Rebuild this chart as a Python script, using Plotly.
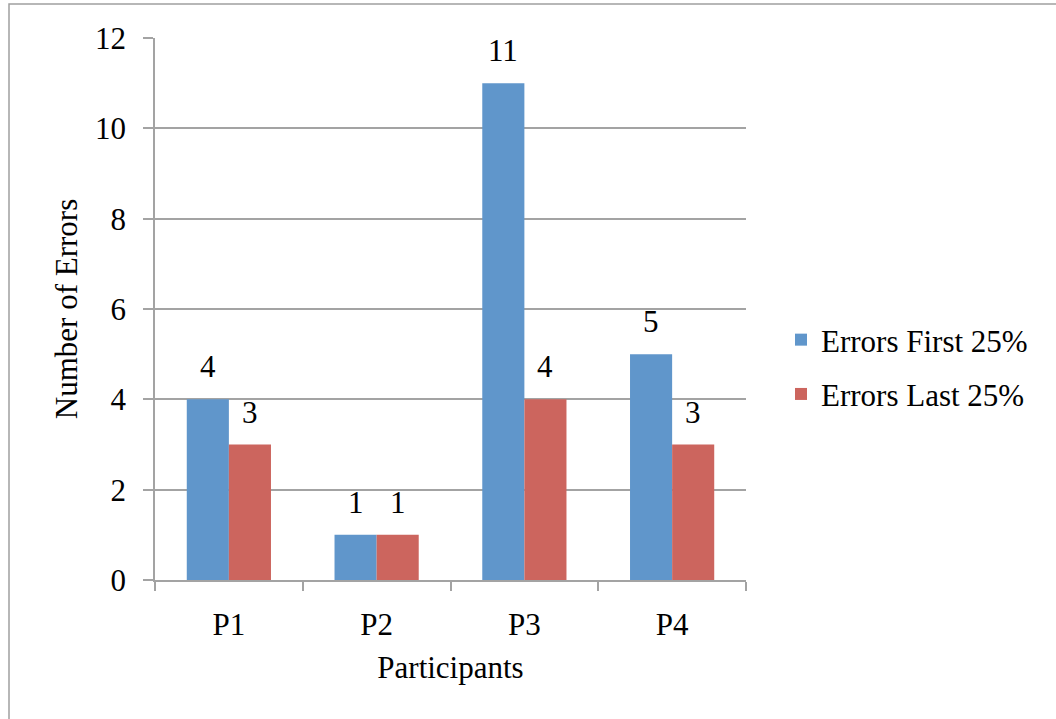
import plotly.graph_objects as go

participants = ["P1", "P2", "P3", "P4"]
errors_first = [4, 1, 11, 5]
errors_last = [3, 1, 4, 3]
series_names = ["Errors First 25%", "Errors Last 25%"]
colors = ["#6096CB", "#CC655E"]
y_ticks = [0, 2, 4, 6, 8, 10, 12]

FONT = "Liberation Serif, Times New Roman, serif"
FS = 31
GRID = "#a3a3a3"

# plot area in pixels
L, R, T, B = 155, 746, 38, 580
W, H = 1056, 719

fig = go.Figure()
for i, (name, vals) in enumerate([(series_names[0], errors_first), (series_names[1], errors_last)]):
    fig.add_trace(go.Bar(
        x=participants, y=vals, name=name,
        marker=dict(color=colors[i], line=dict(width=0)),
        legendgroup=f"g{i}",
        hoverinfo="x+y+name",
    ))

# data labels
bar_w = 42
for i, vals in enumerate([errors_first, errors_last]):
    shift = -bar_w / 2 if i == 0 else bar_w / 2
    for cat, v in zip(participants, vals):
        fig.add_annotation(
            x=cat, y=v, xref="x", yref="y", text=str(v), showarrow=False,
            xshift=shift, yshift=13, yanchor="bottom",
            font=dict(family=FONT, size=FS, color="#000000"),
        )

def px_x(p):
    return (p - L) / (R - L)

def px_y(p):
    return (B - p) / (B - T)

# outer chart border
fig.add_shape(type="rect", xref="paper", yref="paper",
              x0=px_x(9), x1=px_x(1070), y0=px_y(735), y1=px_y(4),
              line=dict(color="#a0a0a0", width=1.5), fillcolor="rgba(0,0,0,0)", layer="below")

fig.update_layout(
    width=W, height=H,
    margin=dict(l=L, r=W - R, t=T, b=H - B, pad=0),
    paper_bgcolor="white", plot_bgcolor="white",
    barmode="group", bargap=0.43, bargroupgap=0,
    font=dict(family=FONT, size=FS, color="#000000"),
    showlegend=True,
    legend=dict(
        x=px_x(781), y=px_y(367), xanchor="left", yanchor="middle",
        font=dict(family=FONT, size=FS, color="#000000"),
        tracegroupgap=11, itemwidth=30, bgcolor="rgba(0,0,0,0)",
    ),
    xaxis=dict(
        title=dict(text="Participants", font=dict(family=FONT, size=FS), standoff=15),
        showline=True, linecolor=GRID, linewidth=1.5,
        ticks="outside", tickson="boundaries", ticklen=9, tickcolor=GRID, tickwidth=1.5,
        ticklabelstandoff=16,
        showgrid=False, zeroline=False,
        tickfont=dict(family=FONT, size=FS),
    ),
    yaxis=dict(
        title=dict(text="Number of Errors", font=dict(family=FONT, size=FS), standoff=8),
        range=[0, 12], tickvals=y_ticks, ticktext=[str(t) for t in y_ticks],
        showline=True, linecolor=GRID, linewidth=1.5,
        ticks="outside", ticklen=10, tickcolor=GRID, tickwidth=1.5,
        ticklabelstandoff=11,
        showgrid=True, gridcolor=GRID, gridwidth=1.5, zeroline=False,
        tickfont=dict(family=FONT, size=FS),
    ),
)

fig.write_html("out.html", config={"displayModeBar": False},
               post_script="document.body.style.margin='0';")
